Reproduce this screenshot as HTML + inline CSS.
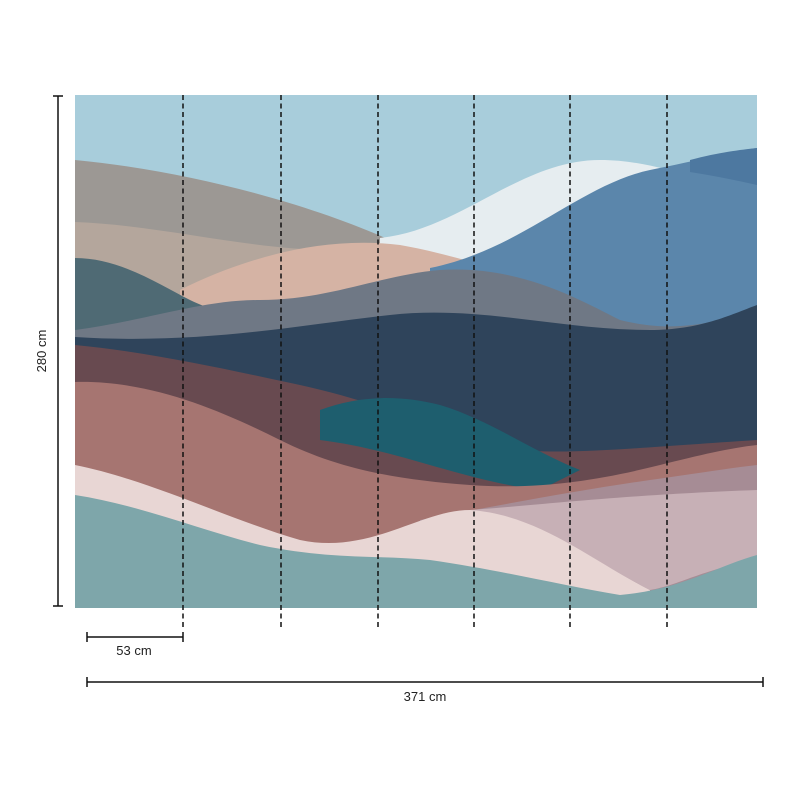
<!DOCTYPE html>
<html><head><meta charset="utf-8"><style>
html,body{margin:0;padding:0;background:#fff;width:800px;height:800px;overflow:hidden}
svg{display:block}
text{font-family:"Liberation Sans",sans-serif;font-size:13px;fill:#222}
</style></head><body>
<svg width="800" height="800" viewBox="0 0 800 800">
<defs><clipPath id="c"><rect x="75" y="95" width="682" height="513"/></clipPath></defs>
<g clip-path="url(#c)">
<rect x="75" y="95" width="682" height="513" fill="#a8cddb"/>
<path d="M75,160 C180,170 300,200 390,240 C470,270 560,250 757,240 L757,608 L75,608Z" fill="#9c9894"/>
<path d="M380,238 C460,230 520,160 600,160 C660,160 700,185 757,190 L757,608 L380,608Z" fill="#e6edf0"/>
<path d="M75,222 C160,225 250,250 330,250 C380,250 420,262 440,268 L440,608 L75,608Z" fill="#b4a69c"/>
<path d="M180,290 C240,260 320,235 400,245 C440,252 470,262 520,275 L520,608 L180,608Z" fill="#d5b3a4"/>
<path d="M430,268 C520,250 580,185 650,170 C700,160 730,152 757,148 L757,608 L430,608Z" fill="#5b86ab"/>
<path d="M690,160 C720,152 740,150 757,148 L757,185 C735,180 710,175 690,172Z" fill="#4d78a0"/>
<path d="M75,258 C120,258 160,285 190,300 C220,315 260,320 290,315 L290,608 L75,608Z" fill="#4f6a74"/>
<path d="M75,330 C150,320 200,300 260,300 C330,300 380,275 440,270 C520,265 580,300 620,320 C680,335 720,320 757,310 L757,608 L75,608Z" fill="#6f7885"/>
<path d="M75,337 C200,345 300,325 390,315 C480,305 560,330 650,330 C700,330 730,315 757,305 L757,608 L75,608Z" fill="#2f445b"/>
<path d="M75,345 C150,352 230,370 300,385 C360,398 420,420 470,440 C530,460 600,450 757,440 L757,608 L75,608Z" fill="#684a50"/>
<path d="M320,410 C360,395 400,395 440,405 C490,420 530,450 580,470 L540,490 C460,480 400,450 320,440Z" fill="#1e5e6e"/>
<path d="M75,382 C150,380 220,410 280,440 C340,470 400,480 470,485 C540,490 600,480 660,465 C700,455 730,448 757,445 L757,608 L75,608Z" fill="#a67571"/>
<path d="M420,520 C500,505 580,490 650,480 C700,473 730,468 757,465 L757,608 L420,608Z" fill="#a68c95"/>
<path d="M75,465 C150,480 230,520 300,540 C370,555 420,510 470,510 C540,510 590,560 650,590 L650,608 L75,608Z" fill="#e8d6d4"/>
<path d="M470,510 C540,505 620,495 757,490 L757,560 C700,570 680,585 650,590 C590,560 540,515 470,510Z" fill="#c7b0b6"/>
<path d="M75,495 C140,505 200,530 260,545 C330,560 380,555 430,560 C500,570 560,585 620,595 C680,590 720,565 757,555 L757,608 L75,608Z" fill="#7ea6aa"/>
</g>
<g stroke="#111" stroke-width="1.5" stroke-dasharray="5,3.5">
<line x1="183" y1="95" x2="183" y2="630"/><line x1="281" y1="95" x2="281" y2="630"/>
<line x1="378" y1="95" x2="378" y2="630"/><line x1="474" y1="95" x2="474" y2="630"/>
<line x1="570" y1="95" x2="570" y2="630"/><line x1="667" y1="95" x2="667" y2="630"/>
</g>
<g stroke="#111" stroke-width="1.5">
<line x1="58" y1="96" x2="58" y2="606"/><line x1="53" y1="96" x2="63" y2="96"/><line x1="53" y1="606" x2="63" y2="606"/>
<line x1="87" y1="637" x2="183" y2="637"/><line x1="87" y1="632" x2="87" y2="642"/><line x1="183" y1="632" x2="183" y2="642"/>
<line x1="87" y1="682" x2="763" y2="682"/><line x1="87" y1="677" x2="87" y2="687"/><line x1="763" y1="677" x2="763" y2="687"/>
</g>
<text x="46" y="351" text-anchor="middle" transform="rotate(-90 46 351)">280 cm</text>
<text x="134" y="655" text-anchor="middle">53 cm</text>
<text x="425" y="701" text-anchor="middle">371 cm</text>
</svg>
</body></html>
